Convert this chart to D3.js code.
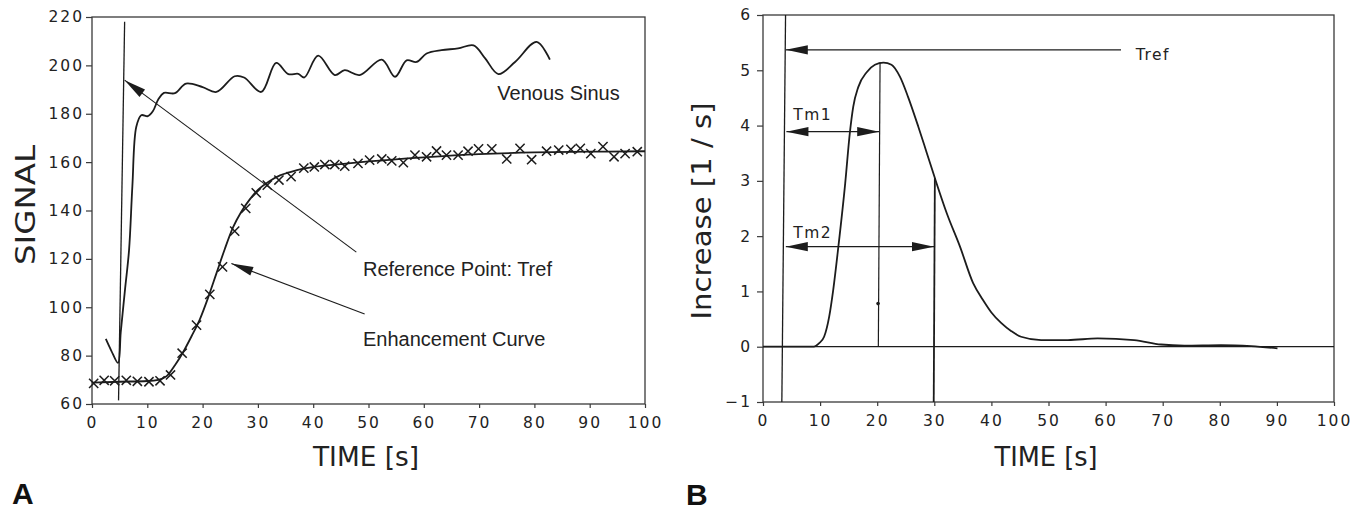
<!DOCTYPE html>
<html><head><meta charset="utf-8">
<script src="https://cdn.jsdelivr.net/npm/d3@7"></script>
<style>body{margin:0;background:#fff}svg{display:block}</style>
</head><body>
<svg id="c" width="1362" height="511"></svg>
<script>
// ---------- DATA ----------
const timeTicks = [0,10,20,30,40,50,60,70,80,90,100];
const signalTicks = [60,80,100,120,140,160,180,200,220];
const increaseTicks = [-1,0,1,2,3,4,5,6];

// Panel A: venous sinus signal
const venousTime   = [2.5,3.5,4.7,5.2,6.0,6.7,7.3,8.0,8.9,10.1,11.0,12.0,13.0,15.0,17.0,20.0,22.5,25.8,27.5,30.6,33.3,35.5,37.3,38.4,40.9,43.9,45.7,48.4,52.4,54.8,56.9,58.7,60.5,63.2,66.2,69.0,71.1,73.5,76.5,80.4,82.8];
const venousSignal = [86.9,82,77,89.7,108,123.6,150,174.5,179.4,179,181,186,188.6,188.5,192.5,191,189,195.5,195,189,201,196.4,196.5,195,204,196,198,196,202.4,195.3,202.1,201.4,204.9,206.3,207,208.3,202.9,196.4,201.4,209.7,202.4];

// Panel A: fitted enhancement curve
const fitTime   = [0,5,10,12,13.5,15,16.5,18,19.5,21,22.5,24,25.5,27,28.5,30,32,34,36,38,40,45,50,60,70,80,90,100];
const fitSignal = [68.8,69.2,69.5,70,71.5,76,81.5,88,95,104,114,124,133,139.5,144.5,148.5,152,154.5,156,157.2,158,159.2,160.3,162,163.3,164,164.3,164.5];

// Panel A: measured enhancement points (x markers)
const markTime   = [0.3,2.2,4.1,6.2,8.2,10.3,12.3,14.2,16.3,18.9,21.3,23.6,25.8,27.8,29.7,31.7,33.8,36.0,38.3,40.2,42.1,43.9,45.7,48.1,50.2,52.4,54.2,56.3,58.4,60.5,62.3,64.1,66.2,68.0,69.9,72.3,75.0,77.4,79.5,82.2,84.4,86.6,88.3,90.2,92.4,94.4,96.4,98.6];
const markSignal = [68.5,69.8,69.6,69.8,69.4,69.2,69.6,72,81,92.6,105.3,116.7,131.5,140.9,147.3,150.5,152.6,154,157.5,158,159,159,158.3,159.5,160.8,161.3,160.5,159.8,162.9,162.2,164.6,162.9,162.9,164.5,165.5,165.5,161.3,165.7,161,164.5,165,165.3,165.7,163.5,166.4,162.2,163.5,164.3];

// Panel B: signal increase rate
const incTime  = [0,8.9,9.8,10.7,11.6,12.3,13.2,14.4,15.2,15.8,16.7,18.2,19.6,21.1,22.5,24.0,25.4,27.2,28.7,30.1,32.2,34.5,36.8,38.5,40.0,41.7,43.5,45.2,48.7,53.4,58.6,65.0,69.7,73.8,80.2,85.5,90.1];
const incValue = [0,0,0.06,0.18,0.55,1.03,1.81,2.96,3.86,4.34,4.70,4.97,5.10,5.14,5.10,4.88,4.52,3.98,3.50,3.05,2.41,1.81,1.15,0.85,0.62,0.43,0.28,0.18,0.12,0.12,0.15,0.12,0.04,0.02,0.03,0.01,-0.03];

// Annotation geometry in data units
const refLineA   = [[5.9,218],[4.8,61.5]];
const refArrowA  = {tip:[5.9,193.9], tail:[47.8,122.8]};
const enhArrowA  = {tip:[25.2,118.1], tail:[49.3,97.2]};
const labelsA    = [
  {text:"Venous Sinus", t:73.3, v:185.5},
  {text:"Reference Point: Tref", t:49.0, v:112.8},
  {text:"Enhancement Curve", t:49.0, v:84.0}
];
const refLineB   = [[3.95,6],[3.3,-1]];
const tm1LineB   = [[20.5,5.14],[20.2,0]];
const tm2LineB   = [[30.1,3.05],[29.9,-1]];
const trefArrowB = {y:5.37, from:4.0, to:62.7};
const tm1ArrowB  = {y:3.89, from:4.1, to:20.35};
const tm2ArrowB  = {y:1.81, from:4.0, to:29.95};
const labelsB    = [
  {text:"Tref", t:65.3, v:5.18},
  {text:"Tm1", t:5.3, v:4.1},
  {text:"Tm2", t:5.3, v:1.97}
];
const dotB = [20.15, 0.78];

// ---------- DRAW ----------
const svg = d3.select("#c");
const ink = "#1c1c1c";
const frameCol = "#3a3a3a";
const tickFont = "'DejaVu Sans', sans-serif";

const xA = d3.scaleLinear([0,100],[92,645]);
const yA = d3.scaleLinear([60,220],[404,17]);
const xB = d3.scaleLinear([0,100],[763,1334]);
const yB = d3.scaleLinear([-1,6],[402,15]);

function frame(x, y) {
  svg.append("rect")
    .attr("x", x.range()[0]).attr("y", y.range()[1])
    .attr("width", x.range()[1]-x.range()[0])
    .attr("height", y.range()[0]-y.range()[1])
    .attr("fill","none").attr("stroke",frameCol).attr("stroke-width",1.3);
}
function axes(x, y, yTicks, yPad) {
  const gx = svg.append("g").attr("transform",`translate(0,${y.range()[0]})`)
    .call(d3.axisBottom(x).tickValues(timeTicks).tickSize(4).tickPadding(9).tickFormat(d3.format("d")));
  const gy = svg.append("g").attr("transform",`translate(${x.range()[0]},0)`)
    .call(d3.axisLeft(y).tickValues(yTicks).tickSize(6).tickPadding(yPad).tickFormat(d3.format("d")));
  [gx,gy].forEach(g=>{
    g.select(".domain").remove();
    g.selectAll(".tick line").attr("stroke",frameCol).attr("stroke-width",1.2);
    g.selectAll(".tick text").attr("fill","#222").style("font-family",tickFont)
      .style("font-size","15.5px").style("letter-spacing","2px");
  });
}
function arrowHead(tip, tail, len, hw) {
  const dx = tail[0]-tip[0], dy = tail[1]-tip[1];
  const L = Math.hypot(dx,dy), ux = dx/L, uy = dy/L;
  const bx = tip[0]+ux*len, by = tip[1]+uy*len;
  return [[tip[0],tip[1]],[bx-uy*hw,by+ux*hw],[bx+uy*hw,by-ux*hw]];
}
function drawArrow(p1, p2, heads) {
  svg.append("line").attr("x1",p1[0]).attr("y1",p1[1]).attr("x2",p2[0]).attr("y2",p2[1])
    .attr("stroke",ink).attr("stroke-width",1.1);
  const hs = [arrowHead(p1,p2,22,4.6)];
  if (heads===2) hs.push(arrowHead(p2,p1,22,4.6));
  hs.forEach(h=>svg.append("polygon").attr("points",h.map(p=>p.join(",")).join(" ")).attr("fill",ink));
}

// ----- Panel A -----
frame(xA,yA);
axes(xA,yA,signalTicks,2);

svg.append("path").datum(fitTime.map((t,i)=>[t,fitSignal[i]]))
  .attr("d", d3.line().x(d=>xA(d[0])).y(d=>yA(d[1])).curve(d3.curveMonotoneX))
  .attr("fill","none").attr("stroke",ink).attr("stroke-width",1.8);

svg.append("path").datum(venousTime.map((t,i)=>[t,venousSignal[i]]))
  .attr("d", d3.line().x(d=>xA(d[0])).y(d=>yA(d[1])).curve(d3.curveCatmullRom.alpha(0.5)))
  .attr("fill","none").attr("stroke",ink).attr("stroke-width",1.8);

const mk = svg.append("g").attr("stroke",ink).attr("stroke-width",1.5);
markTime.forEach((t,i)=>{
  const cx = xA(t), cy = yA(markSignal[i]), s = 4.6;
  mk.append("path").attr("d",`M${cx-s},${cy-s}L${cx+s},${cy+s}M${cx-s},${cy+s}L${cx+s},${cy-s}`);
});

svg.append("line")
  .attr("x1",xA(refLineA[0][0])).attr("y1",yA(refLineA[0][1]))
  .attr("x2",xA(refLineA[1][0])).attr("y2",yA(refLineA[1][1]))
  .attr("stroke",ink).attr("stroke-width",1.3);

drawArrow([xA(refArrowA.tip[0]),yA(refArrowA.tip[1])],[xA(refArrowA.tail[0]),yA(refArrowA.tail[1])],1);
drawArrow([xA(enhArrowA.tip[0]),yA(enhArrowA.tip[1])],[xA(enhArrowA.tail[0]),yA(enhArrowA.tail[1])],1);

labelsA.forEach(l=>svg.append("text").attr("x",xA(l.t)).attr("y",yA(l.v)).text(l.text)
  .attr("fill","#222").style("font-family","'Liberation Sans', Arial, sans-serif").style("font-size","20px"));

// ----- Panel B -----
frame(xB,yB);
axes(xB,yB,increaseTicks,5);

svg.append("line").attr("x1",xB(0)).attr("x2",xB(100)).attr("y1",yB(0)).attr("y2",yB(0))
  .attr("stroke",ink).attr("stroke-width",1.2);

svg.append("path").datum(incTime.map((t,i)=>[t,incValue[i]]))
  .attr("d", d3.line().x(d=>xB(d[0])).y(d=>yB(d[1])).curve(d3.curveMonotoneX))
  .attr("fill","none").attr("stroke",ink).attr("stroke-width",1.8);

[[refLineB,1.3],[tm1LineB,1.2],[tm2LineB,1.8]].forEach(([ln,w])=>{
  svg.append("line").attr("x1",xB(ln[0][0])).attr("y1",yB(ln[0][1]))
    .attr("x2",xB(ln[1][0])).attr("y2",yB(ln[1][1])).attr("stroke",ink).attr("stroke-width",w);
});
drawArrow([xB(trefArrowB.from),yB(trefArrowB.y)],[xB(trefArrowB.to),yB(trefArrowB.y)],1);
drawArrow([xB(tm1ArrowB.from),yB(tm1ArrowB.y)],[xB(tm1ArrowB.to),yB(tm1ArrowB.y)],2);
drawArrow([xB(tm2ArrowB.from),yB(tm2ArrowB.y)],[xB(tm2ArrowB.to),yB(tm2ArrowB.y)],2);
svg.append("circle").attr("cx",xB(dotB[0])).attr("cy",yB(dotB[1])).attr("r",1.8).attr("fill",ink);

labelsB.forEach(l=>svg.append("text").attr("x",xB(l.t)).attr("y",yB(l.v)).text(l.text)
  .attr("fill","#222").style("font-family",tickFont).style("font-size","15.5px").style("letter-spacing","1.5px"));

// ----- Axis titles -----
function title(txt, x, y, len, rot) {
  const t = svg.append("text").text(txt)
    .attr("text-anchor","middle")
    .attr("fill","#222").style("font-family",tickFont).style("font-size","27px")
    .attr("textLength",len).attr("lengthAdjust","spacingAndGlyphs");
  if (rot) t.attr("transform",`translate(${x},${y}) rotate(-90)`);
  else t.attr("x",x).attr("y",y);
}
title("TIME [s]", 366, 466, 106, false);
title("TIME [s]", 1046, 466, 103, false);
title("SIGNAL", 35, 205, 120, true);
title("Increase [1 / s]", 711, 211, 217, true);

svg.append("text").attr("x",12).attr("y",504).text("A")
  .attr("fill","#111").style("font-family","'Liberation Sans', Arial, sans-serif").style("font-weight","bold").style("font-size","30px");
svg.append("text").attr("x",686).attr("y",505).text("B")
  .attr("fill","#111").style("font-family","'Liberation Sans', Arial, sans-serif").style("font-weight","bold").style("font-size","30px");
</script>
</body></html>
